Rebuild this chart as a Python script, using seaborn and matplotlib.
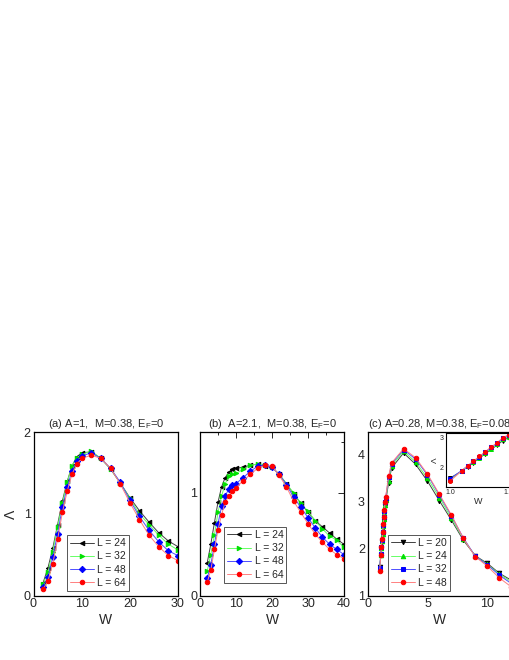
import numpy as np
import pandas as pd
import matplotlib
matplotlib.use("Agg")
import matplotlib.pyplot as plt
import seaborn as sns
from matplotlib.ticker import MultipleLocator

sns.set_style("white")
plt.rcParams['font.family'] = ['Liberation Sans', 'DejaVu Sans']
plt.rcParams['mathtext.fontset'] = 'custom'
plt.rcParams['mathtext.rm'] = 'Liberation Sans'
plt.rcParams['mathtext.it'] = 'Liberation Sans'

# ---------------- data ----------------
# panel (a)
W_a = [2, 3, 4, 5, 6, 7, 8, 9, 10, 12, 14, 16, 18, 20, 22, 24, 26, 28, 30]
a_L24 = [0.16, 0.34, 0.58, 0.87, 1.16, 1.40, 1.59, 1.70, 1.75, 1.76, 1.68, 1.55, 1.38, 1.20, 1.04, 0.90, 0.77, 0.67, 0.60]
a_L32 = [0.14, 0.29, 0.54, 0.84, 1.13, 1.39, 1.59, 1.69, 1.73, 1.77, 1.68, 1.55, 1.38, 1.19, 1.00, 0.87, 0.74, 0.63, 0.56]
a_L48 = [0.11, 0.23, 0.47, 0.76, 1.08, 1.33, 1.53, 1.65, 1.71, 1.75, 1.68, 1.56, 1.39, 1.17, 0.97, 0.80, 0.66, 0.55, 0.49]
a_L64 = [0.08, 0.18, 0.39, 0.69, 1.02, 1.28, 1.49, 1.61, 1.68, 1.72, 1.68, 1.56, 1.37, 1.14, 0.93, 0.74, 0.60, 0.49, 0.43]

# panel (b)
W_b = [2, 3, 4, 5, 6, 7, 8, 9, 10, 12, 14, 16, 18, 20, 22, 24, 26, 28, 30, 32, 34, 36, 38, 40]
b_L24 = [0.32, 0.50, 0.71, 0.91, 1.06, 1.15, 1.20, 1.23, 1.24, 1.25, 1.27, 1.28, 1.26, 1.25, 1.18, 1.09, 0.99, 0.90, 0.81, 0.73, 0.67, 0.61, 0.55, 0.50]
b_L32 = [0.24, 0.40, 0.59, 0.81, 0.97, 1.09, 1.16, 1.18, 1.19, 1.23, 1.27, 1.28, 1.27, 1.25, 1.18, 1.09, 1.00, 0.90, 0.82, 0.73, 0.65, 0.58, 0.54, 0.47]
b_L48 = [0.17, 0.30, 0.50, 0.70, 0.87, 0.97, 1.04, 1.08, 1.09, 1.15, 1.21, 1.26, 1.27, 1.25, 1.18, 1.08, 0.96, 0.86, 0.76, 0.66, 0.57, 0.50, 0.45, 0.40]
b_L64 = [0.13, 0.25, 0.45, 0.64, 0.79, 0.91, 0.97, 1.02, 1.05, 1.12, 1.18, 1.24, 1.27, 1.26, 1.17, 1.06, 0.92, 0.81, 0.70, 0.60, 0.52, 0.45, 0.40, 0.36]

# panel (c)
W_c = [1.0, 1.1, 1.15, 1.2, 1.25, 1.3, 1.35, 1.4, 1.45, 1.5, 1.75, 2, 3, 4, 5, 6, 7, 8, 9, 10, 11, 12]
c_L20 = [1.62, 1.86, 2.01, 2.15, 2.30, 2.45, 2.60, 2.74, 2.90, 3.00, 3.41, 3.72, 4.04, 3.80, 3.44, 3.02, 2.61, 2.18, 1.85, 1.69, 1.48, 1.33]
c_L24 = [1.57, 1.86, 2.02, 2.17, 2.32, 2.48, 2.63, 2.77, 2.94, 3.04, 3.45, 3.77, 4.08, 3.85, 3.50, 3.09, 2.65, 2.21, 1.84, 1.67, 1.46, 1.30]
c_L32 = [1.60, 1.88, 2.04, 2.19, 2.35, 2.51, 2.67, 2.81, 2.99, 3.08, 3.52, 3.81, 4.11, 3.91, 3.57, 3.14, 2.70, 2.23, 1.84, 1.66, 1.44, 1.26]
c_L48 = [1.52, 1.87, 2.04, 2.20, 2.36, 2.52, 2.68, 2.82, 3.00, 3.10, 3.55, 3.83, 4.13, 3.94, 3.59, 3.16, 2.72, 2.22, 1.83, 1.63, 1.38, 1.19]

labels_ab = ["L = 24", "L = 32", "L = 48", "L = 64"]
labels_c = ["L = 20", "L = 24", "L = 32", "L = 48"]
titles = ["(a) A=1,  M=0.38, E$_\\mathregular{F}$=0",
          "(b)  A=2.1,  M=0.38, E$_\\mathregular{F}$=0",
          "(c) A=0.28, M=0.38, E$_\\mathregular{F}$=0.08"]

colors = ["black", "#00e000", "#0000ff", "#ff0000"]
line_colors = ["#404040", "#66ff66", "#4d4dff", "#ff8080"]
markers_ab = ["<", ">", "D", "o"]
markers_c = ["v", "^", "s", "o"]

# ---------------- figure ----------------
fig = plt.figure(figsize=(5.10, 6.60), dpi=100)
W_, H_ = 510.0, 660.0

def add_ax(l, r, t, b):
    return fig.add_axes([l / W_, 1 - b / H_, (r - l) / W_, (b - t) / H_])

ax_a = add_ax(33.5, 178.0, 432.3, 595.7)
ax_b = add_ax(200.0, 344.0, 432.3, 595.7)
ax_c = add_ax(367.7, 511.2, 432.3, 595.7)
ax_in = add_ax(446.0, 511.0, 433.0, 487.0)


def draw(ax, x, ys, labels, markers, ms=3.2):
    for y, lab, m, c, lc in zip(ys, labels, markers, colors, line_colors):
        df = pd.DataFrame({"W": x, "Lam": y})
        sns.lineplot(data=df, x="W", y="Lam", ax=ax, color=lc, lw=0.7,
                     marker=m, markersize=ms, markerfacecolor=c,
                     markeredgecolor=c, label=lab, sort=False,
                     errorbar=None)


draw(ax_a, W_a, [a_L24, a_L32, a_L48, a_L64], labels_ab, markers_ab)
draw(ax_b, W_b, [b_L24, b_L32, b_L48, b_L64], labels_ab, markers_ab)
draw(ax_c, W_c, [c_L20, c_L24, c_L32, c_L48], labels_c, markers_c)
draw(ax_in, W_c, [c_L20, c_L24, c_L32, c_L48], labels_c, markers_c, ms=2.8)

ax_a.set_xlim(0, 30); ax_a.set_ylim(0, 2)
ax_a.xaxis.set_major_locator(MultipleLocator(10)); ax_a.xaxis.set_minor_locator(MultipleLocator(5))
ax_a.yaxis.set_major_locator(MultipleLocator(1)); ax_a.yaxis.set_minor_locator(MultipleLocator(0.5))

ax_b.set_xlim(0, 40); ax_b.set_ylim(0, 1.59)
ax_b.xaxis.set_major_locator(MultipleLocator(10)); ax_b.xaxis.set_minor_locator(MultipleLocator(5))
ax_b.yaxis.set_major_locator(MultipleLocator(1)); ax_b.yaxis.set_minor_locator(MultipleLocator(0.5))

ax_c.set_xlim(0, 12); ax_c.set_ylim(1, 4.48)
ax_c.xaxis.set_major_locator(MultipleLocator(5)); ax_c.xaxis.set_minor_locator(MultipleLocator(2.5))
ax_c.yaxis.set_major_locator(MultipleLocator(1)); ax_c.yaxis.set_minor_locator(MultipleLocator(0.5))

ax_in.set_xlim(0.966, 1.52); ax_in.set_ylim(1.32, 3.16)
ax_in.xaxis.set_major_locator(MultipleLocator(0.5)); ax_in.xaxis.set_minor_locator(MultipleLocator(0.25))
ax_in.yaxis.set_major_locator(MultipleLocator(1)); ax_in.yaxis.set_minor_locator(MultipleLocator(0.5))
ax_in.set_xticklabels([]) 
ax_in.xaxis.set_major_formatter(matplotlib.ticker.FormatStrFormatter('%.1f'))

legend_pos = [(0.23, 0.03), (0.169, 0.08), (0.141, 0.031)]
for ax, title, lp in zip([ax_a, ax_b, ax_c], titles, legend_pos):
    ax.set_title(title, fontsize=8, pad=4)
    ax.set_xlabel("W", fontsize=10, labelpad=2)
    ax.set_ylabel("")
    ax.tick_params(which="both", direction="in", labelsize=9, width=0.7,
                   top=(ax is ax_b), right=(ax is ax_b), pad=2)
    ax.tick_params(which="major", length=4)
    ax.tick_params(which="minor", length=2.5)
    for s in ax.spines.values():
        s.set_linewidth(0.9); s.set_color("black")
    leg = ax.legend(loc="lower left", bbox_to_anchor=lp, borderaxespad=0,
                    fontsize=7.5, frameon=True, fancybox=False,
                    edgecolor="#555555", framealpha=1, labelspacing=0.3,
                    borderpad=0.3, handlelength=2.3, handletextpad=0.3)
    leg.get_frame().set_linewidth(0.7)

ax_a.set_ylabel("Λ", fontsize=10, labelpad=4)

ax_in.set_xlabel("W", fontsize=6.5, labelpad=1)
ax_in.set_ylabel("Λ", fontsize=6, labelpad=1)
ax_in.tick_params(which="both", direction="in", labelsize=5, width=0.6, pad=1.5)
ax_in.tick_params(which="major", length=2.5)
ax_in.tick_params(which="minor", length=1.5)
for s in ax_in.spines.values():
    s.set_linewidth(0.8); s.set_color("black")
if ax_in.get_legend() is not None:
    ax_in.get_legend().remove()

fig.savefig("out.png", dpi=100, facecolor="white")
